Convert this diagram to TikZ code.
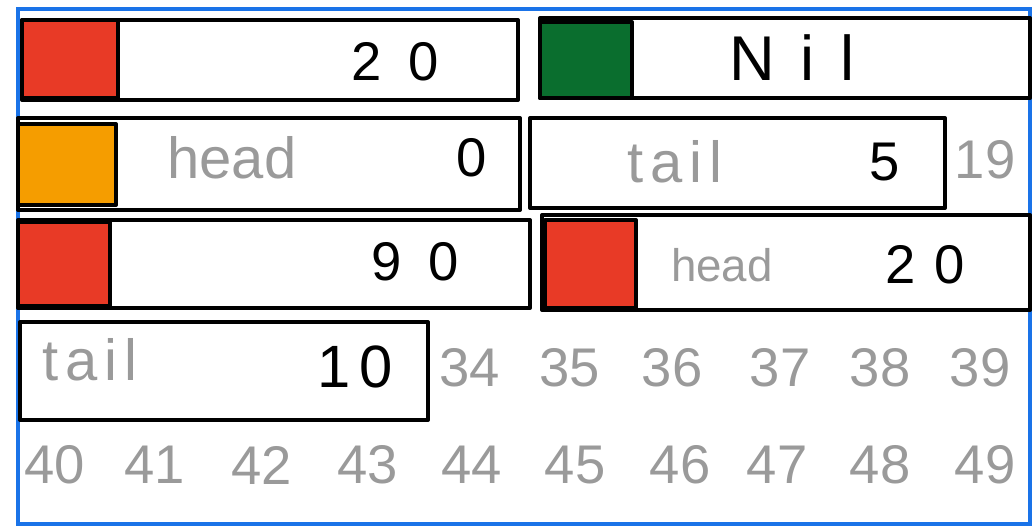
\documentclass[tikz,border=0pt]{standalone}
\usepackage{fontspec}
\setmainfont{Liberation Sans}
\usetikzlibrary{fit}
\definecolor{frameblue}{HTML}{1A73E8}
\definecolor{hred}{HTML}{E83A26}
\definecolor{horange}{HTML}{F59D00}
\definecolor{hgreen}{HTML}{0A6E2E}
\definecolor{lblgray}{HTML}{9A9A9A}
\begin{document}
\begin{tikzpicture}[x=0.02cm,y=-0.02cm,
  cell/.style={draw=black, line width=2.3pt, inner sep=0pt, line join=round},
  tag/.style={cell, fill=#1},
  val/.style={font=\fontsize{31}{33}\selectfont, text=black, inner sep=0pt},
  lbl/.style={font=\fontsize{33}{35}\selectfont, text=lblgray, inner sep=0pt},
  addr/.style={font=\fontsize{31}{33}\selectfont, text=lblgray, inner sep=0pt}]
\useasboundingbox (0,0) rectangle (1034,530);
\node[draw=frameblue, line width=2.2pt, inner sep=0pt, fit={(18,9)(1030,524)}] (frame) {};
% row 1
\node[cell, fit={(22,20)(518,100)}] (b1) {};
\node[tag=hred, fit={(22,20)(118,98)}] (t1) {};
\node[val] (v1) at (395,62) {2\hspace{0.5em}0};
\node[cell, fit={(540,18)(1030,98)}] (b2) {};
\node[tag=hgreen, fit={(540,22)(632,98)}] (t2) {};
\node[val, font=\fontsize{36}{38}\selectfont] (v2) at (792,58) {N\hspace{0.4em}i\hspace{0.4em}l};
% row 2
\node[cell, fit={(18,118)(520,210)}] (b3) {};
\node[tag=horange, fit={(18,124)(116,205)}] (t3) {};
\node[lbl] (l3) at (232,158) {head};
\node[val] (v3) at (472,158) {0};
\node[cell, fit={(530,118)(945,208)}] (b4) {};
\node[lbl] (l4) at (675,162) {t\hspace{0.12em}a\hspace{0.12em}i\hspace{0.12em}l};
\node[val] (v4) at (885,162) {5};
\node[addr] (a19) at (985,160) {19};
% row 3
\node[cell, fit={(18,220)(530,308)}] (b5) {};
\node[tag=hred, fit={(18,222)(110,306)}] (t5) {};
\node[val] (v5) at (415,262) {9\hspace{0.5em}0};
\node[cell, fit={(542,215)(1030,310)}] (b6) {};
\node[tag=hred, fit={(545,220)(636,308)}] (t6) {};
\node[lbl, font=\fontsize{26}{28}\selectfont] (l6) at (722,265) {head};
\node[val] (v6) at (925,265) {2\hspace{0.35em}0};
% row 4
\node[cell, fit={(20,322)(428,420)}] (b7) {};
\node[lbl] (l7) at (90,360) {t\hspace{0.12em}a\hspace{0.12em}i\hspace{0.12em}l};
\node[val, font=\fontsize{34}{36}\selectfont] (v7) at (355,367) {1\hspace{0.15em}0};
\foreach \n/\x in {34/470,35/570,36/672,37/780,38/880,39/980}
  \node[addr] (a\n) at (\x,368) {\n};
% row 5
\foreach \n/\x in {40/55,41/155,42/262,43/368,44/472,45/575,46/680,47/777,48/880,49/985}
  \node[addr] (a\n) at (\x,465) {\n};
\end{tikzpicture}
\end{document}
